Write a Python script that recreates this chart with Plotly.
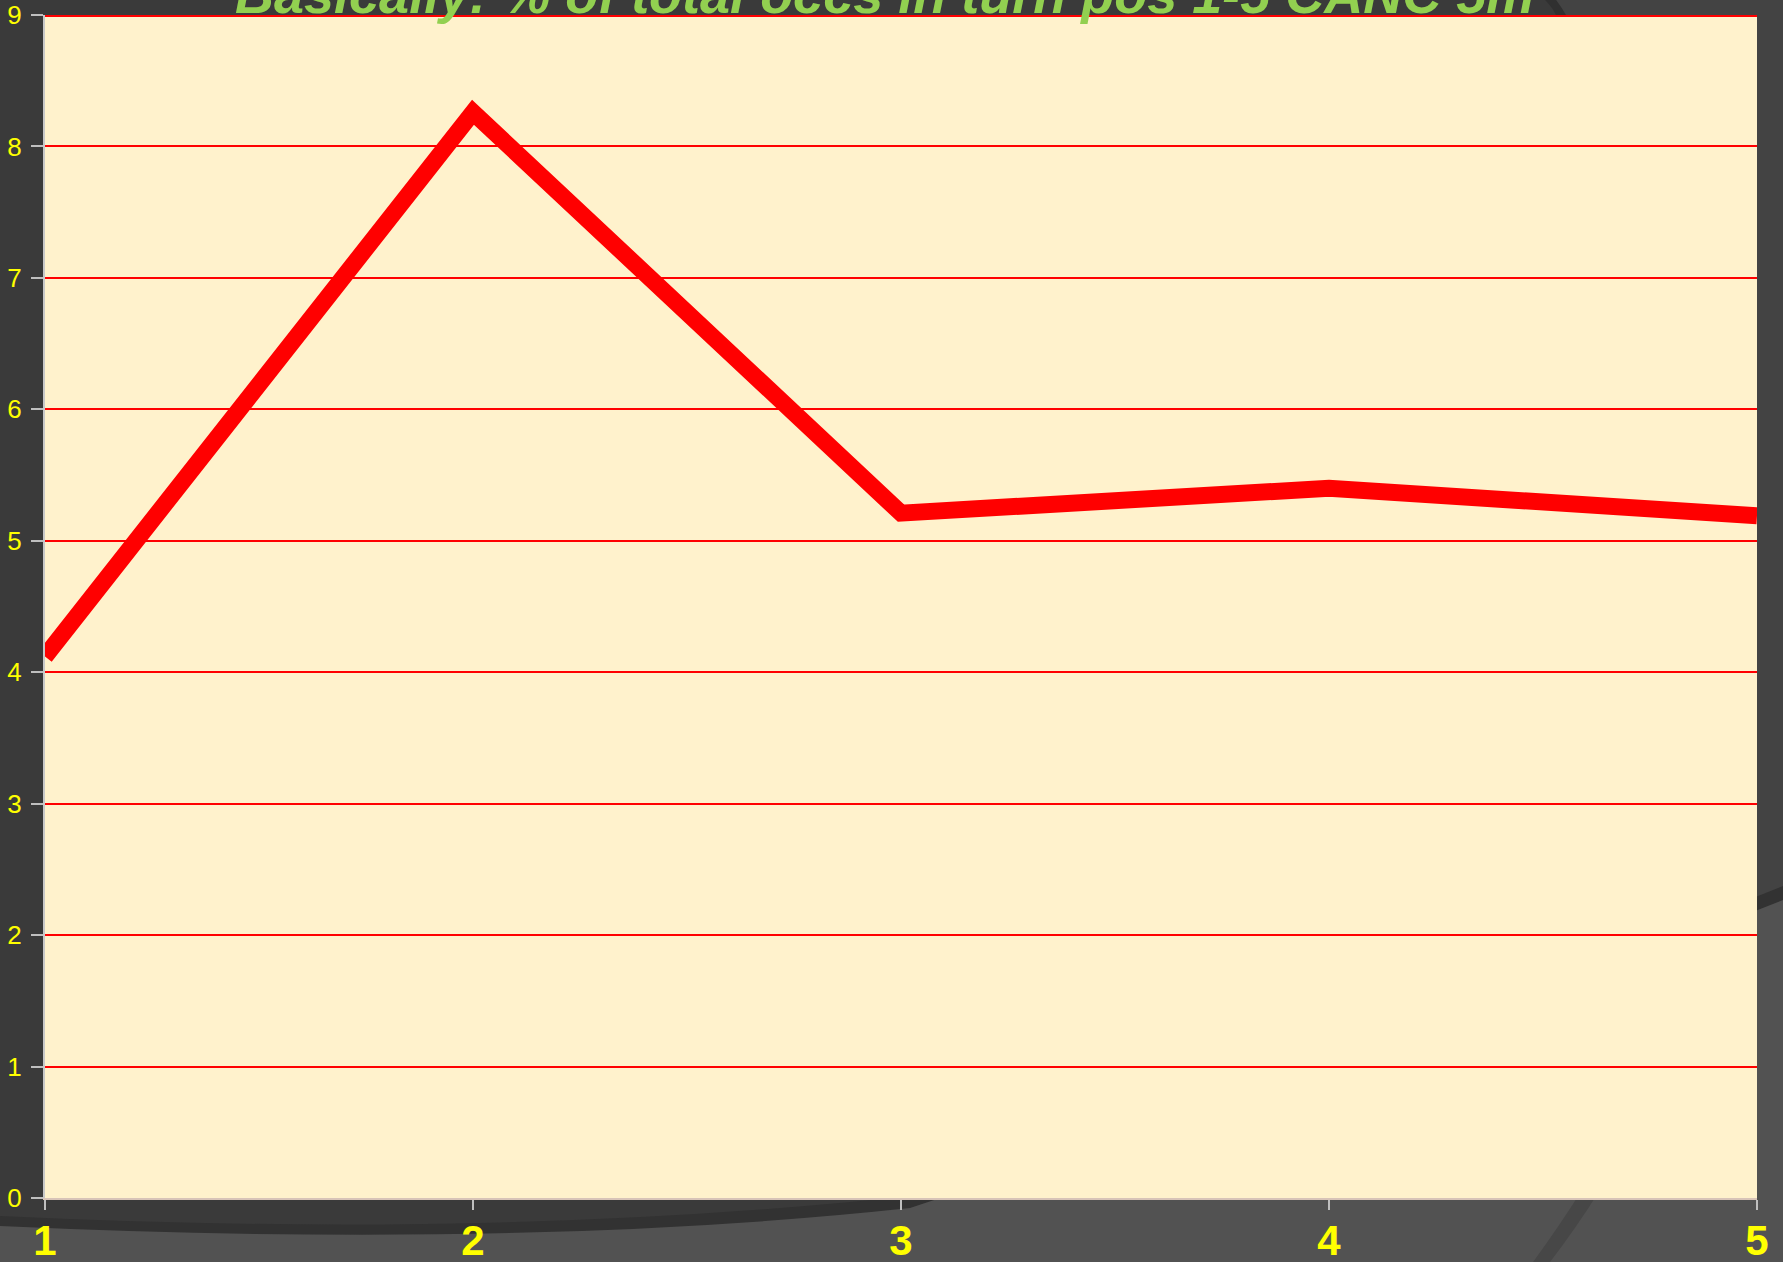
import plotly.graph_objects as go

turn_pos = [1, 2, 3, 4, 5]
pct_occs = [4.12, 8.26, 5.21, 5.40, 5.19]
y_ticks = [0, 1, 2, 3, 4, 5, 6, 7, 8, 9]
title_text = "Basically: % of total occs in turn pos 1-5 CANC 5m"

W, H = 1783, 1262
ML, MR, MT, MB = 45, 26, 15, 64
PW, PH = W - ML - MR, H - MT - MB


def px(xp, yp):
    # page pixel -> paper coordinates (background decoration only)
    return (xp - ML) / PW, 1 - (yp - MT) / PH


def qpath(seq):
    out = ""
    for cmd, *coords in seq:
        if cmd == "Z":
            out += " Z"
            continue
        conv = []
        for i in range(0, len(coords), 2):
            a, b = px(coords[i], coords[i + 1])
            conv.append("{:.4f},{:.4f}".format(a, b))
        out += " {} {}".format(cmd, " ".join(conv))
    return out.strip()


fig = go.Figure()
fig.add_trace(go.Scatter(
    x=turn_pos, y=pct_occs, mode="lines",
    line=dict(color="#FF0000", width=17),
    hoverinfo="skip", showlegend=False,
))

shapes = []
# right strip slightly lighter at top
shapes.append(dict(type="path", xref="paper", yref="paper", layer="below",
                   path=qpath([("M", 1556, 0), ("Q", 1562, 8, 1565, 15), ("L", 1783, 15), ("L", 1783, 900),
                               ("L", 1540, 900), ("L", 1540, 15), ("L", 1783, 15), ("L", 1783, 0), ("Z",)]),
                   fillcolor="#434343", line=dict(width=0)))
shapes.append(dict(type="path", xref="paper", yref="paper", layer="below",
                   path=qpath([("M", 1545, 0), ("Q", 1553, 8, 1556, 15), ("L", 1566, 15),
                               ("Q", 1562, 8, 1556, 0), ("Z",)]),
                   fillcolor="#303030", line=dict(width=0)))
# dark band near the bottom
shapes.append(dict(type="path", xref="paper", yref="paper", layer="below",
                   path=qpath([("M", 0, 1216), ("Q", 500, 1240, 910, 1196), ("Q", 1500, 1000, 1783, 886),
                               ("L", 1783, 1262), ("L", 0, 1262), ("Z",)]),
                   fillcolor="#323232", line=dict(width=0)))
# lighter bottom region
shapes.append(dict(type="path", xref="paper", yref="paper", layer="below",
                   path=qpath([("M", 0, 1226), ("Q", 520, 1250, 910, 1208), ("Q", 1500, 1012, 1783, 900),
                               ("L", 1783, 1262), ("L", 0, 1262), ("Z",)]),
                   fillcolor="#525252", line=dict(width=0)))
# darker diagonal stripe bottom-right
shapes.append(dict(type="path", xref="paper", yref="paper", layer="below",
                   path=qpath([("M", 1533, 1262), ("Q", 1560, 1225, 1582, 1190), ("L", 1600, 1190),
                               ("Q", 1576, 1228, 1550, 1262), ("Z",)]),
                   fillcolor="#474747", line=dict(width=0)))
# plot area background on top of decorations
shapes.append(dict(type="rect", xref="paper", yref="paper", layer="below",
                   x0=0, x1=1, y0=0, y1=1, fillcolor="#FFF2CC", line=dict(width=0)))
# top gridline (drawn slightly heavier, as in the reference)
shapes.append(dict(type="line", xref="paper", yref="y", layer="above",
                   x0=0, x1=1, y0=y_ticks[-1], y1=y_ticks[-1],
                   line=dict(color="#FF0000", width=4)))

fig.update_layout(
    width=W, height=H,
    margin=dict(l=ML, r=MR, t=MT, b=MB, pad=0, autoexpand=False),
    paper_bgcolor="#3a3a3a",
    plot_bgcolor="rgba(0,0,0,0)",
    font=dict(family="Liberation Sans, Arial, sans-serif"),
    shapes=shapes,
    showlegend=False,
    annotations=[dict(
        text=title_text, xref="paper", yref="paper",
        x=(884 - ML) / PW, y=1 + 21 / PH, xanchor="center", yanchor="middle",
        showarrow=False,
        font=dict(family="Liberation Sans, Arial, sans-serif", size=54,
                  color="#92D050", weight="bold", style="italic"),
    )],
    xaxis=dict(
        range=[1, 5], tickmode="array", tickvals=turn_pos,
        ticktext=[str(v) for v in turn_pos],
        tickfont=dict(size=42, color="#FFFF00", weight="bold"),
        showgrid=False, zeroline=False,
        showline=True, linecolor="#D8C4B8", linewidth=2,
        ticks="outside", ticklen=10, tickwidth=2, tickcolor="#BFBFBF",
        ticklabelstandoff=-5,
        automargin=False,
        fixedrange=True,
    ),
    yaxis=dict(
        range=[0, 9], tickmode="array", tickvals=y_ticks,
        tickfont=dict(size=26, color="#FFFF00"),
        showgrid=True, gridcolor="#FF0000", gridwidth=1.5,
        zeroline=False,
        showline=True, linecolor="#C8C8C8", linewidth=2,
        ticks="outside", ticklen=12, tickwidth=2, tickcolor="#BFBFBF",
        ticklabelstandoff=4,
        automargin=False,
        fixedrange=True,
    ),
)

fig.write_html(
    "out.html",
    config={"displayModeBar": False},
    post_script="document.body.style.margin='0';document.body.style.overflow='hidden';document.body.style.background='#3a3a3a';",
)
